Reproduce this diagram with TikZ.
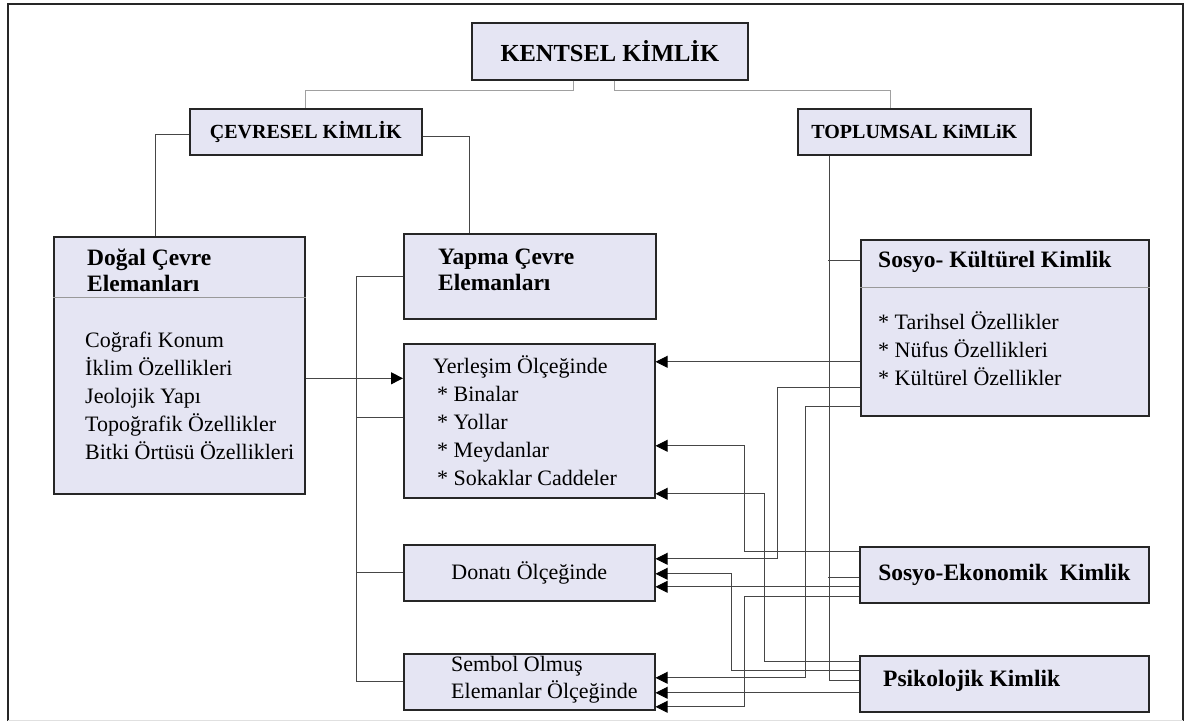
\documentclass[tikz,border=0pt]{standalone}
\usepackage{fontspec}
\setmainfont{Liberation Serif}
\usetikzlibrary{positioning,arrows.meta}
\definecolor{boxfill}{RGB}{229,229,243}
\definecolor{linkgray}{RGB}{70,70,70}
\definecolor{toplinkgray}{RGB}{160,160,160}

\begin{document}
\begin{tikzpicture}[x=1pt,y=-1pt]
		\tikzset{
			idbox/.style={draw=black!85,line width=1.6pt,fill=boxfill,anchor=north west,inner sep=0pt},
			boxlabel/.style={anchor=west,align=left,inner sep=0pt,font=\fontsize{22}{28}\selectfont},
			headlabel/.style={boxlabel,font=\fontsize{23.5}{26}\selectfont\bfseries},
			link/.style={draw=linkgray,line width=0.9pt},
			toplink/.style={draw=toplinkgray,line width=1.2pt},
			arr/.style={link,-{Triangle[length=12pt,width=12pt,color=black]}},
			sepline/.style={draw=black!40,line width=0.8pt},
		}
		\useasboundingbox (0,0) rectangle (1189,722);
		\draw[black!85,line width=1.2pt] (8,721) -- (8,4) -- (1183,4) -- (1183,721);
		\draw[black!12,line width=1pt] (8,720) -- (1183,720);

		\node[idbox,minimum width=276,minimum height=57,font=\fontsize{24.5}{28}\selectfont\bfseries] (kentsel) at (471,22) {KENTSEL KİMLİK};
		\node[idbox,minimum width=232,minimum height=46,font=\fontsize{20}{24}\selectfont\bfseries] (cevresel) at (189,108) {ÇEVRESEL KİMLİK};
		\node[idbox,minimum width=233,minimum height=46,font=\fontsize{20}{24}\selectfont\bfseries] (toplumsal) at (797,108) {TOPLUMSAL KiMLiK};

		\node[idbox,minimum width=251,minimum height=257] (dogal) at (53,236) {};
		\node[idbox,minimum width=252,minimum height=85] (yapma) at (403,233) {};
		\node[idbox,minimum width=251,minimum height=154] (yerlesim) at (403,343) {};
		\node[idbox,minimum width=251,minimum height=56,font=\fontsize{22}{28}\selectfont] (donati) at (403,544) {Donatı Ölçeğinde};
		\node[idbox,minimum width=251,minimum height=56] (sembol) at (403,653) {};
		\node[idbox,minimum width=288,minimum height=176] (sosyok) at (860,239) {};
		\node[idbox,minimum width=289,minimum height=56,font=\fontsize{23.5}{26}\selectfont\bfseries] (sosyoe) at (859,546) {Sosyo-Ekonomik\ \ Kimlik};
		\node[idbox,minimum width=289,minimum height=56] (psiko) at (859,655) {};

		\draw[sepline] ([yshift=-61pt]dogal.north west) -- ([yshift=-61pt]dogal.north east);
		\draw[sepline] ([yshift=-48pt]sosyok.north west) -- ([yshift=-48pt]sosyok.north east);

		\node[headlabel] (dogalhead) at (87,270) {Doğal Çevre\\Elemanları};
		\node[boxlabel] (dogalbody) at (85,396) {Coğrafi Konum\\İklim Özellikleri\\Jeolojik Yapı\\Topoğrafik Özellikler\\Bitki Örtüsü Özellikleri};
		\node[headlabel] (yapmahead) at (438,270) {Yapma Çevre\\Elemanları};
		\node[boxlabel] (yerlesimtext) at (433,421) {Yerleşim Ölçeğinde\\\hspace{4pt}* Binalar\\\hspace{4pt}* Yollar\\\hspace{4pt}* Meydanlar\\\hspace{4pt}* Sokaklar Caddeler};
		\node[boxlabel,font=\fontsize{22}{27}\selectfont] (semboltext) at (451,680) {Sembol Olmuş\\Elemanlar Ölçeğinde};
		\node[headlabel] (sosyokhead) at (878,262) {Sosyo- Kültürel Kimlik};
		\node[boxlabel] (sosyokbody) at (878,349) {* Tarihsel Özellikler\\* Nüfus Özellikleri\\* Kültürel Özellikler};
		\node[headlabel] (psikotext) at (883,681) {Psikolojik Kimlik};

		\draw[toplink] ([xshift=-36pt]kentsel.south) -- ++(0,10) -| (cevresel.north);
		\draw[toplink] ([xshift=5pt]kentsel.south) -- ++(0,10) -| ([xshift=-24pt]toplumsal.north);
		\draw[link] ([yshift=-3pt]cevresel.west) -| ([xshift=-24pt]dogal.north);
		\draw[link] ([yshift=-5pt]cevresel.east) -| ([xshift=-60pt]yapma.north);

		\draw[link] ([xshift=-85pt]toplumsal.south) |- ([yshift=3pt]psiko.west);
		\draw[link] ([yshift=67pt]sosyok.west) -- ++(-32,0);
		\draw[link] ([yshift=-3pt]sosyoe.west) -- ++(-31,0);

		\draw[link] (yapma.west) -- ++(-47,0) |- (sembol.west);
		\draw[link] ([yshift=3pt]yerlesim.west) -- ++(-47,0);
		\draw[link] (donati.west) -- ++(-47,0);
		\coordinate (dogalout) at ([yshift=-13pt]dogal.east);
		\draw[arr] (dogalout) -- (dogalout -| yerlesim.west);

		\coordinate (skout) at ([yshift=-34pt]sosyok.west);
		\draw[arr] (skout) -- (skout -| yerlesim.east);
		\draw[arr] ([yshift=-60pt]sosyok.west) -- ++(-83,0) |- ([yshift=14pt]donati.east);
		\draw[arr] ([yshift=-79pt]sosyok.west) -- ++(-55,0) |- ([yshift=4pt]sembol.east);

		\draw[arr] ([yshift=23pt]sosyoe.west) -- ++(-115,0) |- ([yshift=-25pt]yerlesim.east);
		\coordinate (seout) at ([yshift=-12pt]sosyoe.west);
		\draw[arr] (seout) -- (seout -| donati.east);
		\draw[arr] ([yshift=-22pt]sosyoe.west) -- ++(-115,0) |- ([yshift=-25pt]sembol.east);

		\draw[arr] ([yshift=22pt]psiko.west) -- ++(-95,0) |- ([yshift=-73pt]yerlesim.east);
		\draw[arr] ([yshift=13pt]psiko.west) -- ++(-128,0) |- ([yshift=-1pt]donati.east);
		\coordinate (psout) at ([yshift=-9pt]psiko.west);
		\draw[arr] (psout) -- (psout -| sembol.east);
	\end{tikzpicture}
\end{document}
